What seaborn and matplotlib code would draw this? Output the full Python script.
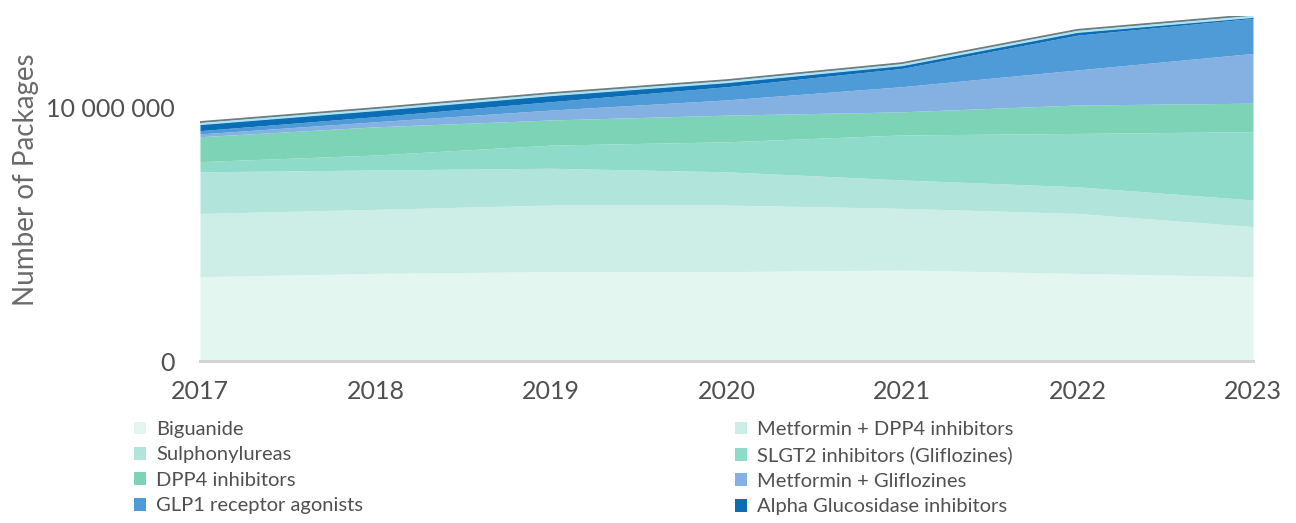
import matplotlib
matplotlib.use("Agg")
import matplotlib.pyplot as plt
import matplotlib.patheffects as pe
from matplotlib.patches import Patch
import numpy as np
import pandas as pd
import seaborn as sns

# Annual dispensed packages per drug class (millions of packages)
years = [2017, 2018, 2019, 2020, 2021, 2022, 2023]
biguanide = [3.34, 3.47, 3.54, 3.54, 3.60, 3.47, 3.34]
metformin_dpp4 = [2.49, 2.52, 2.62, 2.62, 2.43, 2.36, 1.97]
sulphonylureas = [1.64, 1.55, 1.45, 1.31, 1.12, 1.05, 1.05]
slgt2 = [0.40, 0.59, 0.91, 1.18, 1.77, 2.10, 2.69]
dpp4 = [0.98, 1.11, 0.99, 1.05, 0.91, 1.12, 1.12]
metformin_gliflozines = [0.11, 0.20, 0.39, 0.60, 0.99, 1.38, 1.96]
glp1 = [0.13, 0.20, 0.33, 0.52, 0.72, 1.37, 1.38]
alpha_glucosidase = [0.26, 0.26, 0.26, 0.18, 0.13, 0.13, 0.06]

labels = [
    "Biguanide", "Metformin + DPP4 inhibitors", "Sulphonylureas",
    "SLGT2 inhibitors (Gliflozines)", "DPP4 inhibitors", "Metformin + Gliflozines",
    "GLP1 receptor agonists", "Alpha Glucosidase inhibitors",
]
colors = ["#e3f6ef", "#cdeee6", "#b1e5db", "#8edbca", "#7dd3b5",
          "#84b1e2", "#4f9bd7", "#0b6db6"]

series = [biguanide, metformin_dpp4, sulphonylureas, slgt2, dpp4,
          metformin_gliflozines, glp1, alpha_glucosidase]
df = pd.DataFrame({lab: np.array(v) * 1e6 for lab, v in zip(labels, series)},
                  index=years)

sns.set_theme(style="white")
plt.rcParams["font.family"] = ["Lato", "DejaVu Sans"]

fig = plt.figure(figsize=(12.96, 5.23), dpi=100)
ax = fig.add_axes([0.1543, 0.3088, 0.8125, 0.6604])

ax.stackplot(df.index, *[df[c] for c in labels], colors=colors,
             linewidth=0, antialiased=True)

# thin highlight along the top of the stack
total = df.sum(axis=1)
ax.plot(df.index, total, color="#aee3f2", lw=1.6, solid_capstyle="butt",
        path_effects=[pe.SimpleLineShadow(offset=(0, 1.3), shadow_color="#6f7c80",
                                          alpha=1.0, rho=1.0),
                      pe.Normal()])

ax.set_xlim(2017, 2023)
ax.set_ylim(0, 13.6e6)
ax.set_xticks(years)
ax.set_xticklabels([str(y) for y in years])
ax.set_yticks([0, 10_000_000])
ax.set_yticklabels(["0", "10 000 000"])
ax.tick_params(axis="x", length=0, pad=13, labelsize=18, labelcolor="#505050")
ax.tick_params(axis="y", length=0, pad=18, labelsize=18, labelcolor="#505050")
ax.set_ylabel("Number of Packages", fontsize=20, color="#6a6a6a")
ax.yaxis.set_label_coords(-0.153, 0.525)

for side in ["top", "right", "left"]:
    ax.spines[side].set_visible(False)
ax.spines["bottom"].set_color("#d4d4d4")
ax.spines["bottom"].set_linewidth(2.2)
ax.grid(False)

handles = [Patch(facecolor=c, edgecolor="none") for c in colors]
common = dict(frameon=False, fontsize=14.5, handlelength=0.6, handleheight=0.6,
              handletextpad=0.5, labelspacing=0.42, borderpad=0, borderaxespad=0,
              labelcolor="#505050")
fig.legend(handles[0::2], labels[0::2], loc="upper left",
           bbox_to_anchor=(134 / 1296, 1 - 421 / 523), **common)
fig.legend(handles[1::2], labels[1::2], loc="upper left",
           bbox_to_anchor=(735 / 1296, 1 - 421 / 523), **common)

fig.savefig("out.png", dpi=100, facecolor="white")
